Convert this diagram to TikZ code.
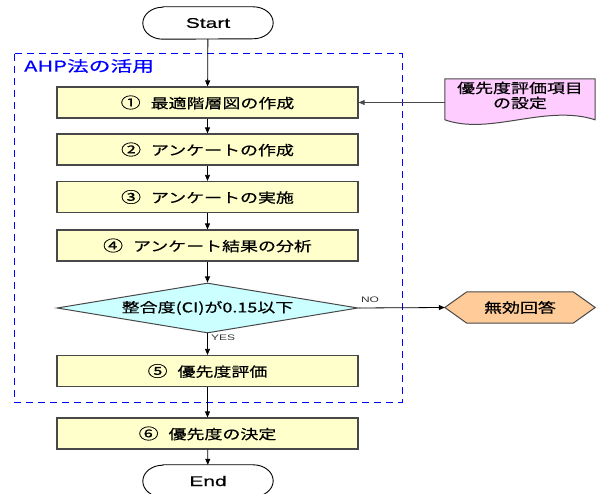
\documentclass[tikz,border=0pt]{standalone}
\usepackage{fontspec}
\setmainfont[FakeStretch=1.33,FakeBold=0.5]{Noto Sans CJK JP}
\newfontfamily\labfont[FakeStretch=1.45,FakeBold=0.4]{Noto Sans CJK JP}
\newfontfamily\latfont[FakeStretch=1.5,FakeBold=0.4]{Liberation Sans}
\newfontfamily\smallfont[FakeStretch=1.5]{Liberation Sans}
\usetikzlibrary{shapes.geometric,arrows.meta,backgrounds,calc}
\definecolor{boxfill}{HTML}{FFFFCC}
\definecolor{diafill}{HTML}{CCFFFF}
\definecolor{hexfill}{HTML}{FFCC99}
\definecolor{docfill}{HTML}{FFCCFF}
\definecolor{edgegray}{HTML}{484848}
\definecolor{grpblue}{HTML}{0000FF}
\begin{document}
\begin{tikzpicture}[x=1pt,y=-1pt,
  proc/.style={draw=edgegray, line width=1.2pt, fill=boxfill, minimum width=301pt,
    minimum height=31pt, inner sep=0pt, font=\fontsize{13.5pt}{16pt}\selectfont},
  decision/.style={diamond, aspect=6, draw=edgegray, line width=1pt, fill=diafill,
    minimum width=301pt, minimum height=50pt, inner sep=0pt,
    font=\fontsize{13.5pt}{16pt}\selectfont},
  term/.style={minimum width=130pt, minimum height=32pt, inner sep=0pt,
    font=\latfont\fontsize{14pt}{16pt}\selectfont},
  termshape/.style={draw=black, line width=0.9pt, fill=white},
  flow/.style={-{Triangle[length=6pt,width=5pt]}, line width=0.8pt, draw=black},
  small/.style={font=\smallfont\fontsize{8pt}{9pt}\selectfont, text=black!80, inner sep=0pt}
]
\useasboundingbox (0,0) rectangle (603,494);

% nodes
\node[term] (start) at (208,23) {Start};
\node[anchor=west, inner sep=0pt, text=grpblue, font=\labfont\fontsize{15pt}{17pt}\selectfont] (grplab) at (24,66) {AHP法の活用};
\node[proc] (b1) at (207.5,102.5) {{\fontsize{15pt}{16pt}\selectfont ①}\hspace{10pt}最適階層図の作成};
\node[proc] (b2) at (207.5,149.5) {{\fontsize{15pt}{16pt}\selectfont ②}\hspace{10pt}アンケートの作成};
\node[proc] (b3) at (207.5,197) {{\fontsize{15pt}{16pt}\selectfont ③}\hspace{10pt}アンケートの実施};
\node[proc] (b4) at (207.5,245.5) {{\fontsize{15pt}{16pt}\selectfont ④}\hspace{10pt}アンケート結果の分析};
\node[decision] (dia) at (207.5,308) {整合度(CI)が0.15以下};
\node[proc] (b5) at (207.5,371) {{\fontsize{15pt}{16pt}\selectfont ⑤}\hspace{10pt}優先度評価};
\node[proc] (b6) at (207.5,433.5) {{\fontsize{15pt}{16pt}\selectfont ⑥}\hspace{10pt}優先度の決定};
\node[term] (stop) at (208,481) {End};
\node[minimum width=150pt, minimum height=33pt, inner sep=0pt, align=center,
  font=\fontsize{13.5pt}{15pt}\selectfont] (doc) at (520,95.5) {優先度評価項目\\の設定};
\node[minimum width=150pt, minimum height=31pt, inner sep=0pt,
  font=\fontsize{13.5pt}{16pt}\selectfont] (hex) at (520,307.5) {無効回答};
\node[minimum width=387pt, minimum height=348pt, inner sep=0pt] (grp) at (208.5,228) {};
\node[small] (nolab) at (370,300) {NO};
\node[small, anchor=west] (yeslab) at (211,338) {YES};

% background shapes
\begin{scope}[on background layer]
  \draw[grpblue, line width=1.3pt, dash pattern=on 7pt off 5pt] (grp.north west) rectangle (grp.south east);
  \foreach \n in {start,stop}{
    \draw[termshape] ([xshift=20pt]\n.north west) -- ([xshift=-20pt]\n.north east)
      arc[start angle=90, end angle=-90, x radius=20pt, y radius=16pt]
      -- ([xshift=20pt]\n.south west)
      arc[start angle=270, end angle=90, x radius=20pt, y radius=16pt] -- cycle;
  }
  \draw[draw=edgegray, line width=1pt, fill=docfill] (doc.north west) -- (doc.north east)
    -- ($(doc.north east)+(0,41)$)
    .. controls ($(doc.north east)+(-50,25)$) and ($(doc.north east)+(-105,57)$) ..
    ($(doc.north west)+(0,41)$) -- cycle;
  \draw[draw=edgegray, line width=1pt, fill=hexfill] (hex.west) -- ([xshift=22pt]hex.north west)
    -- ([xshift=-22pt]hex.north east) -- (hex.east) -- ([xshift=-22pt]hex.south east)
    -- ([xshift=22pt]hex.south west) -- cycle;
\end{scope}

% connectors
\draw[flow] (start) -- (b1);
\draw[flow] (b1) -- (b2);
\draw[flow] (b2) -- (b3);
\draw[flow] (b3) -- (b4);
\draw[flow] (b4) -- (dia);
\draw[flow] (dia) -- (b5);
\draw[flow] (b5) -- (b6);
\draw[flow] (b6) -- (stop);
\draw[flow] (dia.east) -- (hex.west);
\draw[flow, draw=edgegray] (doc.west |- b1.east) -- (b1.east);
\end{tikzpicture}
\end{document}
